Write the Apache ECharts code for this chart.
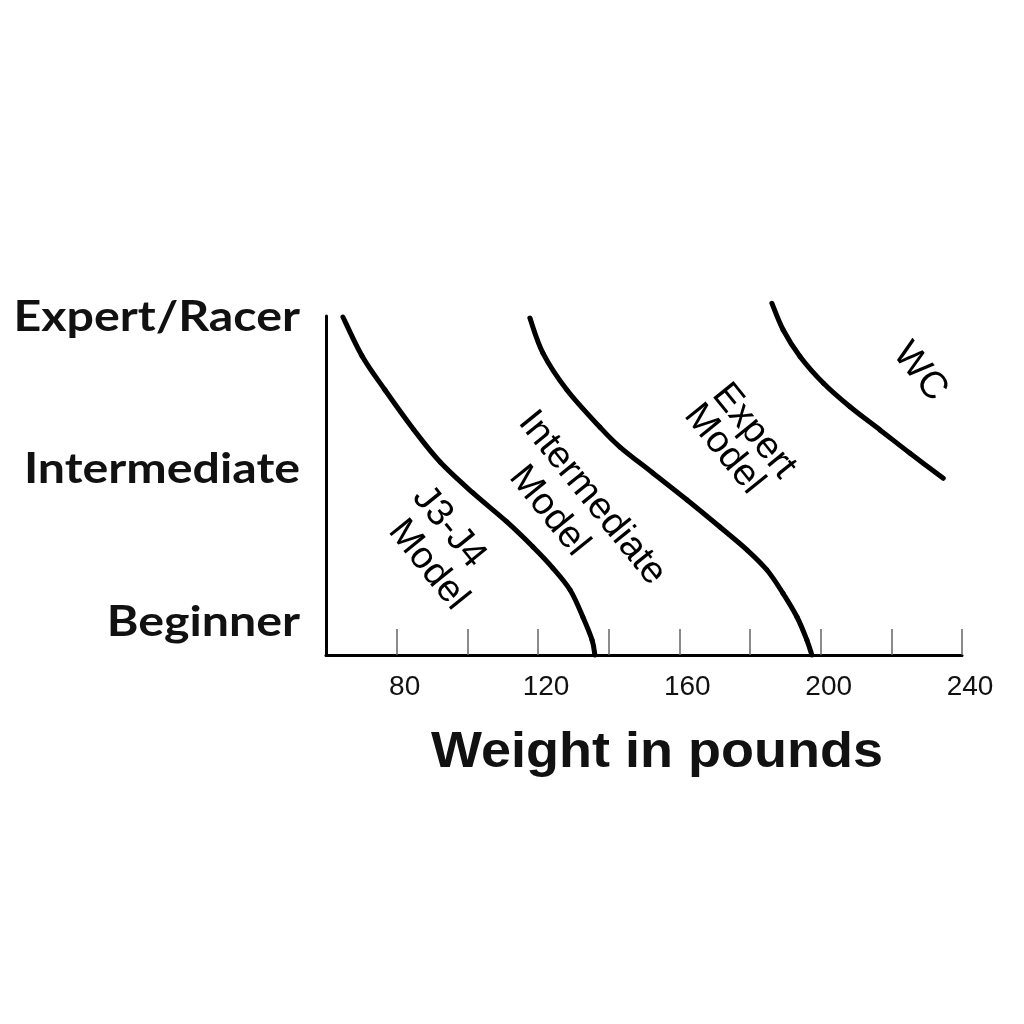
<!DOCTYPE html>
<html>
<head>
<meta charset="utf-8">
<script src="https://cdn.jsdelivr.net/npm/echarts@6/dist/echarts.min.js"></script>
<style>
html,body{margin:0;padding:0;background:#fff;}
#chart{width:1024px;height:1024px;}
</style>
</head>
<body>
<div id="chart"></div>
<script>
// ---- data ----
const levelNames = ['Beginner', 'Intermediate', 'Expert/Racer'];   // y = 1, 2, 3
const levelValues = [1, 2, 3];
const xTickValues = [80, 100, 120, 140, 160, 180, 200, 220, 240];
const xLabelValues = [80, 120, 160, 200, 240];
const xTitle = 'Weight in pounds';

const j3j4Weight = [64.8, 70.2, 76.7, 84.9, 92.3, 101.6, 111.2, 118.6, 124.2, 129.1, 132.7, 135.3, 136.1];
const j3j4Level  = [2.993, 2.738, 2.515, 2.253, 2.043, 1.840, 1.650, 1.486, 1.348, 1.204, 1.027, 0.876, 0.778];

const interWeight = [117.7, 121.4, 128.2, 137.5, 143.2, 152.5, 162.2, 171.5, 179.2, 184.8, 189.3, 193.3, 196.1, 197.5];
const interLevel  = [2.987, 2.757, 2.515, 2.272, 2.141, 1.971, 1.794, 1.617, 1.466, 1.335, 1.184, 1.027, 0.876, 0.778];

const wcWeight = [186.2, 189.4, 194.2, 200.8, 208.3, 216.8, 225.3, 234.7];
const wcLevel  = [3.083, 2.908, 2.733, 2.559, 2.405, 2.253, 2.100, 1.936];

const noteText   = ['J3-J4', 'Model', 'Intermediate', 'Model', 'Expert', 'Model', 'WC'];
const noteWeight = [94.8, 88.9, 135.3, 123.1, 181.1, 172.6, 228.1];
const noteLevel  = [1.617, 1.368, 1.807, 1.722, 2.246, 2.128, 2.633];

// ---- build ----
const zip = (a, b) => a.map((v, i) => [v, b[i]]);

// Smooth curve through the data points, positioned by the chart's own axes (api.coord)
function curve(name, xs, ys) {
  return {
    name, type: 'custom', data: zip(xs, ys), clip: false, silent: true, animation: false,
    encode: { x: 0, y: 1 },
    renderItem: function (params, api) {
      if (params.dataIndex !== 0) return null;
      const p = xs.map((x, i) => api.coord([x, ys[i]]));
      const n = p.length;
      const get = (i) => p[Math.max(0, Math.min(n - 1, i))];
      let d = 'M' + p[0][0] + ' ' + p[0][1];
      const children = [];
      for (let i = 0; i < n - 1; i++) {
        const p0 = get(i - 1), p1 = get(i), p2 = get(i + 1), p3 = get(i + 2);
        children.push({
          type: 'bezierCurve',
          shape: {
            x1: p1[0], y1: p1[1], x2: p2[0], y2: p2[1],
            cpx1: p1[0] + (p2[0] - p0[0]) / 6, cpy1: p1[1] + (p2[1] - p0[1]) / 6,
            cpx2: p2[0] - (p3[0] - p1[0]) / 6, cpy2: p2[1] - (p3[1] - p1[1]) / 6
          },
          style: { stroke: '#000', lineWidth: 5, fill: null, lineCap: 'round' }
        });
      }
      return { type: 'group', children };
    }
  };
}
const notes = noteText.map((t, i) => ({ value: [noteWeight[i], noteLevel[i]], name: t }));

const chart = echarts.init(document.getElementById('chart'), null, { renderer: 'canvas' });
chart.setOption({
  backgroundColor: '#fff',
  animation: false,
  grid: { left: 326, right: 62, top: 316, bottom: 369 },
  xAxis: {
    type: 'value', min: 60, max: 240, interval: 20,
    axisLine: { show: true, lineStyle: { color: '#000', width: 3 } },
    axisTick: { show: true, inside: true, length: 26, customValues: xTickValues,
                lineStyle: { color: '#666', width: 1.5 } },
    axisLabel: { show: true, customValues: xLabelValues, margin: 18, color: '#111',
                 fontFamily: 'Liberation Sans, Arial, sans-serif', fontSize: 28,
                 padding: [0, 0, 0, 16] },
    splitLine: { show: false }
  },
  yAxis: {
    type: 'value', min: 0.778, max: 3,
    axisLine: { show: true, lineStyle: { color: '#000', width: 3 } },
    axisTick: { show: false },
    axisLabel: { show: false },
    splitLine: { show: false }
  },
  series: [
    curve('J3-J4 Model', j3j4Weight, j3j4Level),
    curve('Intermediate Model', interWeight, interLevel),
    curve('WC', wcWeight, wcLevel),
    {
      type: 'scatter', data: notes, symbolSize: 1, silent: true, clip: false,
      itemStyle: { color: 'transparent', opacity: 1 },
      label: { show: true, position: 'inside', rotate: -51, formatter: p => p.name, opacity: 1,
               color: '#000', fontFamily: 'Liberation Sans, Arial, sans-serif', fontSize: 38 }
    }
  ]
});

// Level labels (horizontally widened like the reference) placed via the y axis scale
const graphics = levelValues.map((v, i) => {
  const py = chart.convertToPixel({ yAxisIndex: 0 }, v);
  return {
    type: 'text', x: 300, y: py + 1, scaleX: 1.15, silent: true,
    style: { text: levelNames[i], align: 'right', verticalAlign: 'middle',
             font: 'bold 42px Lato, sans-serif', fill: '#111' }
  };
});
const midX = chart.convertToPixel({ xAxisIndex: 0 }, 150);
graphics.push({
  type: 'text', x: midX + 13, y: 753, scaleX: 1.08, silent: true,
  style: { text: xTitle, align: 'center', verticalAlign: 'middle',
           font: 'bold 50px "Liberation Sans", Arial, sans-serif', fill: '#111' }
});
chart.setOption({ graphic: graphics });
</script>
</body>
</html>
